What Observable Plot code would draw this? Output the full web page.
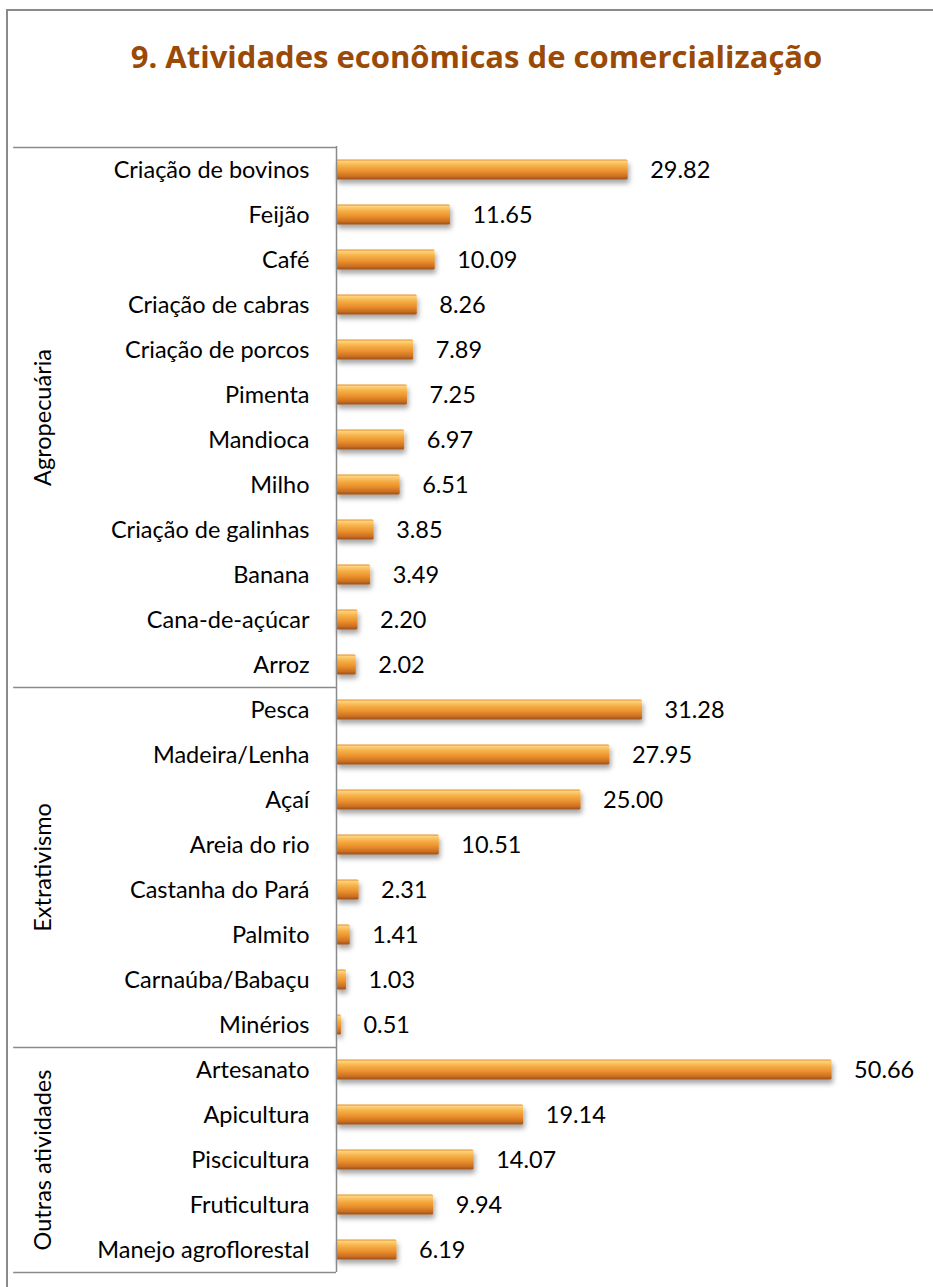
<!DOCTYPE html>
<html><head><meta charset="utf-8">
<script src="https://cdn.jsdelivr.net/npm/d3@7"></script>
<script src="https://cdn.jsdelivr.net/npm/@observablehq/plot@0.6"></script>
<style>
body{margin:0;background:#fff;}
#wrap{position:relative;width:933px;height:1287px;overflow:hidden;font-family:Lato,sans-serif;background:#fff;}
#frame{position:absolute;left:6px;top:9px;width:1000px;height:1400px;border-left:2px solid #8a8a8a;border-top:2px solid #8a8a8a;}
#title{position:absolute;top:35px;left:10px;width:933px;text-align:center;font-weight:bold;font-size:31px;color:#9b4a06;z-index:2;font-family:"Open Sans",sans-serif;}
#chart{position:absolute;left:0;top:0;z-index:1;}
</style></head>
<body>
<div id="wrap">
  <div id="frame"></div>
  <div id="title">9. Atividades econômicas de comercialização</div>
  <div id="chart"></div>
</div>
<script>
const categories = ["Criação de bovinos","Feijão","Café","Criação de cabras","Criação de porcos","Pimenta","Mandioca","Milho","Criação de galinhas","Banana","Cana-de-açúcar","Arroz",
  "Pesca","Madeira/Lenha","Açaí","Areia do rio","Castanha do Pará","Palmito","Carnaúba/Babaçu","Minérios",
  "Artesanato","Apicultura","Piscicultura","Fruticultura","Manejo agroflorestal"];
const values = [29.82,11.65,10.09,8.26,7.89,7.25,6.97,6.51,3.85,3.49,2.20,2.02,
  31.28,27.95,25.00,10.51,2.31,1.41,1.03,0.51,
  50.66,19.14,14.07,9.94,6.19];
const groupNames = ["Agropecuária","Extrativismo","Outras atividades"];
const groupSizes = [12,8,5];

const W = 933, H = 1287, mTop = 146, mBottom = 15, mLeft = 336, mRight = 10;
const bw = (H - mTop - mBottom) / categories.length;
const FS = 23.5;

const data = categories.map((name, i) => ({name, value: values[i]}));

let start = 0;
const groups = groupNames.map((g, k) => {
  const n = groupSizes[k];
  const first = categories[start];
  const last = categories[start + n - 1];
  const anchor = categories[start + Math.floor(n / 2)];
  const dy = n % 2 === 0 ? -bw / 2 : 0;
  start += n;
  return {name: g, first, last, anchor, dy};
});

const defs = () => {
  const d = d3.create("svg:defs");
  const lg = d.append("linearGradient").attr("id", "barGrad")
    .attr("x1", 0).attr("y1", 0).attr("x2", 0).attr("y2", 1);
  [[0,"#e8902c"],[0.1,"#fdd27a"],[0.3,"#f7b24a"],[0.6,"#ea8f2c"],[0.85,"#c96e22"],[1,"#9a5018"]]
    .forEach(([o,c]) => lg.append("stop").attr("offset", o).attr("stop-color", c));
  const f = d.append("filter").attr("id", "shadow").attr("x", "-10%").attr("y", "-40%").attr("width", "130%").attr("height", "220%");
  f.append("feDropShadow").attr("dx", 1.5).attr("dy", 4).attr("stdDeviation", 2.5)
    .attr("flood-color", "#000").attr("flood-opacity", 0.35);
  return d.node();
};

const ruleStyle = {x1: -33, x2: 0, stroke: "#8a8a8a", strokeWidth: 1.5};

const chart = Plot.plot({
  width: W, height: H,
  marginTop: mTop, marginBottom: mBottom, marginLeft: mLeft, marginRight: mRight,
  style: {fontFamily: "Lato, sans-serif", fontSize: FS + "px", color: "#000", background: "transparent"},
  x: {domain: [0, 60], axis: null},
  y: {domain: categories, padding: 0, axis: null},
  marks: [
    defs,
    Plot.barX(data, {x: "value", y: "name", fill: "#f0a040", insetTop: 12.5, insetBottom: 12.5, rx: 1.5}),
    Plot.ruleX([0], {stroke: "#8a8a8a", strokeWidth: 1.5}),
    Plot.ruleY(groups.map(g => g.first), {...ruleStyle, dy: -bw / 2}),
    Plot.ruleY([groups[groups.length - 1].last], {...ruleStyle, dy: bw / 2}),
    Plot.axisY({tickSize: 0, tickPadding: 27, fontSize: FS, label: null}),
    Plot.text(data, {x: "value", y: "name", text: d => d.value.toFixed(2), dx: 22, textAnchor: "start", fontSize: FS, fill: "#000"}),
    ...groups.map(g => Plot.text([g], {x: -30, y: "anchor", text: "name", rotate: -90, dy: g.dy, fontSize: FS, fill: "#000"}))
  ]
});

const svg = d3.select(chart);
svg.selectAll("g[aria-label=bar]").attr("fill", "url(#barGrad)").attr("filter", "url(#shadow)");
document.getElementById("chart").appendChild(chart);
</script>
</body></html>
